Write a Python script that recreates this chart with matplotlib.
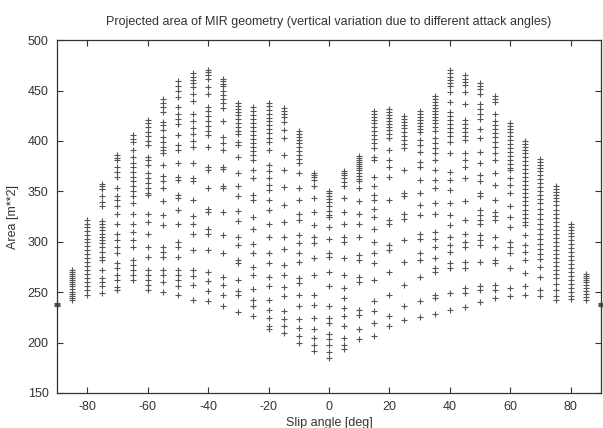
import matplotlib
matplotlib.use('Agg')
import matplotlib.pyplot as plt

plt.rcParams['font.family'] = ['Liberation Sans', 'DejaVu Sans']
plt.rcParams['axes.unicode_minus'] = False

# projected area per slip angle, one list per column
a_m90 = [236, 237, 238, 239]
a_m85 = [272, 270, 268, 266, 264, 262, 260, 258, 256, 253, 250, 248, 246, 244, 242]
a_m80 = [322, 318, 315, 311, 307, 303, 300, 296, 292, 288, 284, 280, 276, 272, 268, 264, 260, 256, 252, 247]
a_m75 = [357, 355, 352, 345, 339, 335, 321, 318, 315, 312, 308, 305, 302, 299, 295, 290, 285, 282, 272, 264, 260, 256, 249]
a_m70 = [386, 383, 381, 374, 369, 364, 353, 345, 341, 335, 328, 318, 308, 302, 295, 289, 279, 274, 267, 262, 255, 252]
a_m65 = [406, 402, 399, 391, 384, 378, 374, 369, 364, 360, 355, 350, 345, 338, 328, 318, 310, 302, 295, 282, 277, 272, 267, 262]
a_m60 = [421, 418, 414, 409, 405, 400, 396, 384, 381, 376, 368, 363, 358, 353, 348, 346, 328, 320, 308, 295, 285, 272, 267, 262, 257, 252]
a_m55 = [442, 438, 434, 429, 419, 416, 411, 404, 399, 394, 391, 388, 376, 365, 360, 353, 340, 327, 317, 295, 290, 285, 272, 267, 260, 250]
a_m50 = [460, 455, 450, 444, 434, 427, 422, 417, 406, 396, 391, 378, 364, 361, 346, 343, 332, 318, 300, 295, 285, 272, 267, 262, 256, 247]
a_m45 = [467, 464, 461, 458, 454, 447, 440, 427, 420, 413, 407, 400, 394, 378, 363, 360, 341, 326, 318, 308, 292, 272, 266, 257, 242]
a_m40 = [470, 468, 465, 462, 454, 447, 434, 430, 425, 420, 415, 410, 406, 394, 374, 371, 353, 333, 330, 313, 308, 292, 270, 261, 251, 241]
a_m35 = [462, 460, 457, 455, 450, 446, 442, 438, 433, 420, 404, 398, 391, 374, 372, 355, 353, 330, 307, 289, 265, 257, 247, 236]
a_m30 = [438, 435, 432, 429, 426, 422, 418, 414, 410, 407, 399, 396, 384, 368, 355, 345, 331, 321, 305, 297, 282, 279, 262, 251, 247, 230]
a_m25 = [434, 430, 426, 422, 418, 414, 410, 406, 402, 398, 394, 390, 386, 381, 371, 363, 346, 341, 325, 313, 298, 289, 275, 267, 253, 242, 236, 226]
a_m20 = [438, 435, 431, 427, 423, 420, 416, 412, 408, 403, 399, 391, 376, 370, 363, 356, 351, 341, 332, 318, 305, 289, 279, 265, 256, 242, 232, 224, 216, 213]
a_m15 = [433, 430, 427, 424, 419, 411, 403, 386, 371, 354, 336, 320, 305, 293, 277, 267, 255, 246, 231, 223, 216, 209]
a_m10 = [410, 407, 404, 401, 398, 394, 390, 386, 382, 378, 368, 353, 341, 328, 322, 307, 299, 289, 280, 264, 259, 247, 236, 223, 214, 206, 200]
a_m05 = [368, 366, 364, 361, 355, 343, 330, 317, 305, 299, 284, 267, 247, 237, 224, 213, 204, 198, 192]
a_p00 = [350, 348, 345, 342, 339, 335, 331, 327, 325, 315, 303, 289, 285, 270, 256, 236, 224, 219, 208, 203, 198, 191, 185]
a_p05 = [370, 368, 366, 363, 359, 355, 343, 330, 318, 305, 300, 284, 267, 254, 244, 234, 226, 216, 204, 198, 194]
a_p10 = [385, 383, 381, 379, 377, 375, 373, 371, 368, 365, 362, 360, 353, 340, 328, 318, 305, 287, 282, 265, 260, 232, 227, 213, 203]
a_p15 = [430, 427, 424, 421, 418, 414, 410, 406, 402, 398, 393, 384, 381, 364, 355, 346, 341, 333, 325, 313, 300, 289, 279, 262, 241, 231, 219, 206]
a_p20 = [432, 429, 426, 423, 420, 417, 414, 411, 407, 403, 391, 381, 374, 364, 341, 322, 318, 297, 292, 270, 247, 226, 216]
a_p25 = [425, 422, 419, 416, 413, 409, 405, 401, 397, 393, 371, 348, 345, 328, 323, 302, 280, 257, 236, 222]
a_p30 = [430, 427, 424, 421, 418, 415, 412, 409, 401, 396, 389, 379, 374, 361, 348, 336, 327, 308, 303, 289, 282, 265, 241, 225]
a_p35 = [445, 442, 439, 436, 433, 430, 427, 424, 421, 418, 414, 410, 403, 398, 393, 388, 381, 371, 361, 353, 338, 328, 310, 303, 295, 284, 274, 270, 247, 244, 228]
a_p40 = [470, 467, 464, 461, 458, 455, 449, 439, 429, 425, 421, 417, 413, 409, 405, 399, 388, 369, 361, 351, 338, 327, 317, 305, 297, 290, 279, 274, 249, 232]
a_p45 = [465, 462, 459, 456, 449, 437, 421, 417, 413, 409, 405, 401, 388, 381, 374, 363, 340, 322, 308, 300, 295, 280, 274, 254, 249, 235]
a_p50 = [458, 455, 452, 447, 437, 432, 427, 422, 412, 403, 389, 378, 366, 360, 348, 345, 332, 327, 322, 318, 307, 302, 297, 280, 256, 252, 240]
a_p55 = [445, 442, 439, 427, 420, 416, 412, 408, 404, 399, 394, 388, 381, 368, 356, 341, 330, 326, 322, 305, 295, 282, 279, 257, 252, 244]
a_p60 = [418, 415, 412, 409, 405, 401, 397, 393, 389, 385, 381, 377, 373, 371, 363, 356, 348, 335, 325, 315, 300, 295, 289, 274, 254, 246]
a_p65 = [400, 397, 394, 391, 388, 384, 380, 376, 372, 368, 364, 360, 356, 352, 348, 344, 340, 336, 332, 328, 324, 320, 317, 307, 297, 290, 282, 269, 256, 247]
a_p70 = [382, 379, 376, 373, 370, 366, 362, 358, 354, 350, 346, 342, 338, 333, 328, 323, 318, 313, 308, 303, 298, 293, 288, 283, 275, 265, 252, 246]
a_p75 = [355, 352, 349, 346, 343, 340, 336, 332, 328, 324, 320, 316, 312, 308, 304, 300, 296, 292, 288, 284, 280, 276, 272, 268, 264, 258, 252, 246, 242]
a_p80 = [318, 315, 312, 309, 306, 302, 298, 294, 290, 286, 282, 278, 274, 270, 266, 262, 258, 254, 250, 246, 243]
a_p85 = [268, 266, 264, 262, 260, 257, 254, 251, 248, 245, 242]
a_p90 = [236, 237, 238, 239]

slip = [-90, -85, -80, -75, -70, -65, -60, -55, -50, -45, -40, -35, -30, -25, -20, -15, -10, -5,
        0, 5, 10, 15, 20, 25, 30, 35, 40, 45, 50, 55, 60, 65, 70, 75, 80, 85, 90]
areas = [a_m90, a_m85, a_m80, a_m75, a_m70, a_m65, a_m60, a_m55, a_m50, a_m45, a_m40, a_m35,
         a_m30, a_m25, a_m20, a_m15, a_m10, a_m05, a_p00, a_p05, a_p10, a_p15, a_p20, a_p25,
         a_p30, a_p35, a_p40, a_p45, a_p50, a_p55, a_p60, a_p65, a_p70, a_p75, a_p80, a_p85, a_p90]

xs = []
ys = []
for s, col in zip(slip, areas):
    for v in col:
        xs.append(s)
        ys.append(v)

fig = plt.figure(figsize=(6.03, 4.28), dpi=100)
ax = fig.add_axes([0.0945, 0.082, 0.902, 0.824])
ax.plot(xs, ys, '+', color='#555555', markersize=4.8, mew=0.8, clip_on=False)

ax.set_xlim(-90, 90)
ax.set_ylim(150, 500)
ax.set_xticks([-80, -60, -40, -20, 0, 20, 40, 60, 80])
ax.set_yticks([150, 200, 250, 300, 350, 400, 450, 500])
ax.tick_params(direction='in', top=True, right=True, length=4, width=0.8,
               labelsize=9, colors='#333333', pad=6)
for sp in ax.spines.values():
    sp.set_color('#333333')
    sp.set_linewidth(0.9)

ax.set_title('Projected area of MIR geometry (vertical variation due to different attack angles)',
             fontsize=9, color='#333333', pad=11)
ax.set_xlabel('Slip angle [deg]', fontsize=9, color='#333333', labelpad=3)
ax.set_ylabel('Area [m**2]', fontsize=9, color='#333333', labelpad=6)

fig.savefig('out.png', dpi=100)
